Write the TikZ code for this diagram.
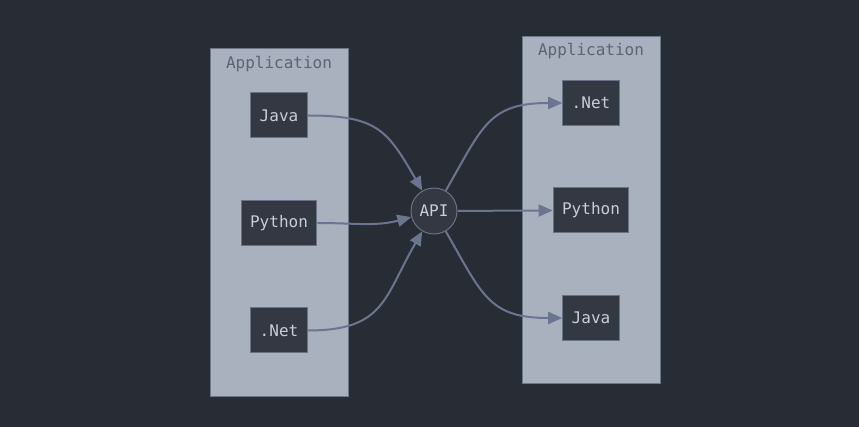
\documentclass[tikz,border=0pt]{standalone}
\usepackage{fontspec}
\setmonofont{DejaVu Sans Mono}
\usetikzlibrary{arrows.meta,positioning}
\definecolor{bgcol}{HTML}{282C34}
\definecolor{panelfill}{HTML}{A9B0BE}
\definecolor{panelline}{HTML}{6E768A}
\definecolor{nodefill}{HTML}{343842}
\definecolor{nodeline}{HTML}{6B7285}
\definecolor{nodetext}{HTML}{C8CDD6}
\definecolor{labeltext}{HTML}{5C6475}
\definecolor{linkcol}{HTML}{6C7590}
\tikzstyle{panel} = [rectangle,minimum width=138pt,minimum height=347pt,draw=panelline,fill=panelfill,line width=1pt]
\tikzstyle{applabel} = [text=labeltext,font=\ttfamily\fontsize{16}{19}\selectfont]
\tikzstyle{lang} = [rectangle,minimum height=45pt,inner xsep=9pt,draw=nodeline,fill=nodefill,text=nodetext,font=\ttfamily\fontsize{16}{19}\selectfont,line width=1pt]
\tikzstyle{api} = [circle,minimum size=46pt,inner sep=0pt,draw=nodeline,fill=nodefill,text=nodetext,font=\ttfamily\fontsize{16}{19}\selectfont,line width=1pt]
\tikzstyle{link} = [draw=linkcol,line width=2pt,-{Triangle[length=14pt,width=12pt]}]

\begin{document}
\begin{tikzpicture}[x=1pt,y=-1pt,node distance=107.5pt]
    \useasboundingbox[fill=bgcol] (0,0) rectangle (859,427);

    % Panels
    \node[panel] (lpanel) at (279,222.5) {};
    \node[panel] (rpanel) at (591,210) {};
    \node[applabel] (llabel) at ([yshift=-16pt]lpanel.north) {Application};
    \node[applabel] (rlabel) at ([yshift=-15pt]rpanel.north) {Application};

    % Left languages
    \node[lang] (ljava) at (279,115.5) {Java};
    \node[lang,below of=ljava] (lpython) {Python};
    \node[lang,below of=lpython] (lnet) {.Net};

    % API
    \node[api] (api) at (434,211) {API};

    % Right languages
    \node[lang] (rnet) at (591,103) {.Net};
    \node[lang,below of=rnet] (rpython) {Python};
    \node[lang,below of=rpython] (rjava) {Java};

    % arrow
    \draw[link] (ljava.east) to[out=0,in=120,looseness=1.3] (api);
    \draw[link] (lpython.east) to[out=0,in=195] (api);
    \draw[link] (lnet.east) to[out=0,in=240,looseness=1.3] (api);
    \draw[link] (api) to[out=60,in=180,looseness=1.3] (rnet.west);
    \draw[link] (api) -- (rpython.west);
    \draw[link] (api) to[out=-60,in=180,looseness=1.3] (rjava.west);
\end{tikzpicture}
\end{document}
